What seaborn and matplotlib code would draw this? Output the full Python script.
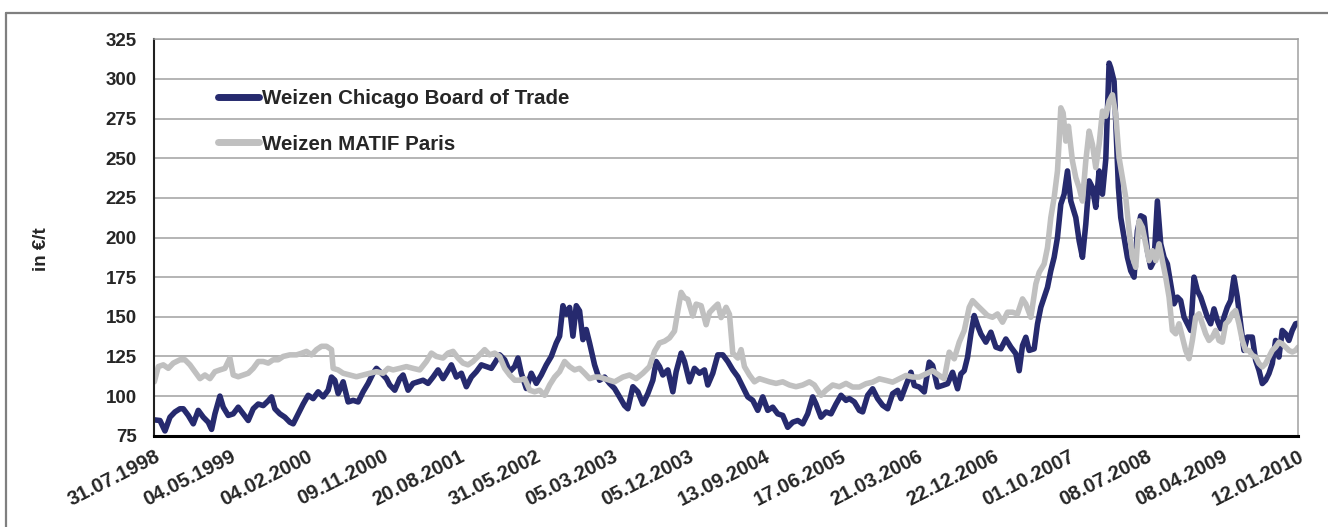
import matplotlib

matplotlib.use("Agg")
import matplotlib.pyplot as plt
import numpy as np
import pandas as pd
import seaborn as sns
from matplotlib.lines import Line2D
from matplotlib.transforms import ScaledTranslation

# category axis: one date label every 229 sample points
date_labels = [
    "31.07.1998", "04.05.1999", "04.02.2000", "09.11.2000", "20.08.2001",
    "31.05.2002", "05.03.2003", "05.12.2003", "13.09.2004", "17.06.2005",
    "21.03.2006", "22.12.2006", "01.10.2007", "08.07.2008", "08.04.2009",
    "12.01.2010",
]
label_every = 229

series_names = ["Weizen Chicago Board of Trade", "Weizen MATIF Paris"]
series_colors = ["#262A6E", "#C0C0C0"]

# Weizen Chicago Board of Trade, EUR/t
cbot_day = [
    0, 17, 32, 47, 62, 77, 87, 102, 117, 132, 147, 162, 172, 182, 197, 207, 222, 237, 252, 267,
    282, 297, 312, 327, 342, 352, 362, 377, 392, 407, 417, 432, 447, 462, 477, 492, 507, 522, 532, 542,
    552, 567, 582, 597, 612, 627, 642, 657, 667, 682, 697,
    707, 722, 737, 747, 762, 777, 792, 807, 822, 837, 852, 867, 877, 892, 907, 922, 937, 952, 967, 982,
    997, 1012, 1022, 1037, 1052, 1067, 1082, 1092, 1102, 1117, 1132, 1147, 1162, 1177, 1192, 1207, 1217, 1227, 1237, 1247,
    1257, 1267, 1277, 1287, 1297, 1307, 1322, 1337, 1352, 1367,
    1382, 1397, 1412, 1422, 1437, 1452, 1467, 1482, 1497, 1507, 1517, 1527, 1542, 1557, 1567, 1582, 1592, 1607, 1622, 1637,
    1652, 1662, 1677, 1692, 1707, 1722, 1737, 1752, 1767, 1782, 1797, 1812, 1827, 1842, 1857, 1872, 1887, 1902, 1917, 1932,
    1947, 1962, 1977, 1987, 2002, 2017, 2032, 2047, 2062, 2077,
    2087, 2102, 2117, 2127, 2142, 2157, 2172, 2187, 2202, 2217, 2232, 2242, 2257, 2272, 2282, 2297, 2312, 2327, 2337, 2352,
    2367, 2382, 2397, 2412, 2422, 2432, 2442, 2452, 2462, 2472, 2482, 2497, 2512, 2527, 2542, 2557, 2572, 2587, 2597, 2607,
    2617, 2627, 2642, 2652,
    2662, 2672, 2682, 2692, 2702, 2712, 2722, 2732, 2742, 2752, 2767, 2777, 2787, 2797, 2807, 2817, 2827, 2837, 2847, 2857,
    2867, 2872, 2882, 2889, 2895, 2902, 2912, 2922, 2932, 2942, 2952, 2962, 2972, 2982, 2992, 3002, 3012, 3022, 3032, 3042,
    3052, 3062, 3072, 3082, 3092, 3102, 3112, 3122, 3132, 3142, 3152, 3162, 3172, 3182, 3192, 3202, 3212, 3222, 3232, 3242,
    3252, 3262, 3272, 3282, 3297, 3307, 3317, 3327, 3337, 3347, 3357, 3367, 3377, 3387, 3397, 3407, 3417, 3427, 3435,
]
cbot_eur = [
    85, 84.6, 78, 86.7, 90, 92, 92, 87.8, 82.5, 91, 86.7, 83.5, 79, 88.8, 100, 93, 87.8, 88.8, 93, 88.8,
    84.6, 92, 95, 94, 97, 99.5, 92, 88.8, 86.7, 83.5, 82.5, 88.8, 95, 100.5, 98.4, 102.7, 99.5, 103.7, 112, 110,
    101.6, 109, 96.3, 97.3, 96.3, 102.7, 108, 114.4, 117.5, 114.4, 111,
    107, 103.7, 111, 113.3, 103.7, 108, 109, 110, 108, 112, 116.5, 111, 114.4, 119.7, 112, 114.4, 105.9, 112, 115.4, 119.7,
    118.6, 117.5, 120.8, 126, 122.9, 115.4, 118.6, 124, 114.4, 104.8, 114.4, 108, 113.3, 119.7, 125, 133.5, 137.8, 157, 151.6, 155.9,
    137.8, 157, 153.7, 135.6, 142, 133.5, 119.7, 110, 112, 108,
    104.8, 99.5, 94, 92, 105.9, 102.7, 95, 101.6, 110, 121.8, 118.6, 113.3, 116.5, 102.7, 115.4, 127.1, 121.8, 109, 117.5, 114.4,
    116.5, 107, 114.4, 126, 126, 121.8, 116.5, 112.2, 105.9, 99.5, 97.3, 91, 99.5, 91, 93, 88.8, 87.8, 80.3, 83.5, 84.6,
    82.5, 88.8, 99.5, 95, 86.7, 90, 88.8, 95, 100.5, 97.3,
    98.4, 96.3, 91, 90, 100.5, 104.6, 98.4, 94.2, 92, 101.5, 103.6, 98.4, 106.7, 115, 106.7, 105.7, 102.6, 121.4, 119.3, 105.7,
    106.7, 107.8, 115, 104.6, 114, 116, 124.5, 139.2, 150.8, 144.5, 139.2, 134, 140.3, 130.9, 129.8, 136, 130.9, 126.7, 116, 131.9,
    137.1, 128.8, 129.8, 145.5,
    156, 162.4, 168.6, 179.1, 187.5, 200.1, 221, 227.3, 242, 223, 212.6, 198, 187.5, 208.4, 235.7, 231.5, 219, 242, 227.3, 249.3,
    310, 307, 298.5, 263, 231.5, 212.6, 200, 187.5, 179, 175, 204.3, 213.7, 212.6, 191.7, 181.2, 185.4, 223, 196, 187.5, 183.3,
    170.7, 158.2, 162.4, 160.3, 149.8, 145.6, 141.4, 175, 166.6, 162.4, 156, 149.8, 145.6, 155, 147.7, 142.5, 149.8, 156, 160.3, 175,
    162.4, 145.6, 128.8, 137.2, 137.2, 122.6, 116.3, 107.9, 110, 114.2, 120.5, 135.1, 124.6, 141.4, 139.3, 135.1, 141.4, 145.6, 146,
]

# Weizen MATIF Paris, EUR/t
matif_day = [
    0, 12, 27, 42, 57, 77, 92, 107, 122, 137, 152, 167, 182, 197, 212, 227, 237, 252, 267, 282,
    297, 312, 327, 342, 357, 372, 387, 407, 427, 442, 457, 472, 487, 502, 517, 532, 537, 552, 567, 587,
    607, 627, 647, 667, 687, 702,
    717, 737, 757, 777, 797, 817, 832, 847, 867, 882, 897, 912, 927, 942, 957, 977, 992, 1007, 1022, 1037,
    1052, 1067, 1082, 1097, 1112, 1127, 1142, 1157, 1172, 1187, 1202, 1217, 1232, 1247, 1262, 1277, 1292, 1307, 1322, 1337,
    1352, 1367, 1382,
    1407, 1427, 1447, 1467, 1487, 1502, 1517, 1532, 1547, 1562, 1572, 1582, 1592, 1602, 1617, 1627, 1642, 1657, 1667, 1682,
    1692, 1702, 1717, 1727, 1737, 1752, 1762, 1772, 1787, 1802, 1817, 1832, 1847, 1867, 1887, 1907, 1927, 1947, 1967, 1982,
    2002, 2017, 2037, 2057, 2077,
    2097, 2117, 2137, 2157, 2177, 2197, 2217, 2237, 2257, 2277, 2297, 2317, 2337, 2357, 2372, 2387, 2402, 2417, 2432, 2447,
    2457, 2472, 2487, 2502, 2517, 2532, 2547, 2562, 2577, 2592, 2607, 2617, 2632, 2647, 2657, 2672, 2682, 2692, 2702, 2712,
    2717, 2722, 2729, 2737, 2745, 2757,
    2767, 2777, 2787, 2797, 2807, 2817, 2827, 2837, 2847, 2857, 2867, 2877, 2887, 2897, 2907, 2917, 2927, 2937, 2947, 2957,
    2967, 2977, 2987, 2997, 3007, 3017, 3027, 3037, 3047, 3057, 3067, 3077, 3087, 3097, 3107, 3117, 3127, 3137, 3147, 3157,
    3167, 3177, 3187, 3197, 3207, 3217, 3227, 3237, 3247, 3257, 3267, 3277, 3287, 3297, 3307, 3317, 3327, 3337, 3347, 3357,
    3367, 3377, 3387, 3397, 3407, 3417, 3427, 3435,
]
matif_eur = [
    109, 118.6, 119.7, 117.5, 120.8, 122.9, 122.9, 119.7, 115.4, 111, 113.3, 111, 115.4, 116.5, 117.5, 124, 113.3, 112.2, 113.3, 114.4,
    117.5, 121.8, 121.8, 120.8, 122.9, 122.9, 125, 126, 126, 127, 128.2, 126, 129.3, 131.4, 131.4, 129.3, 117.5, 116.5, 114.4, 113.3,
    112.2, 113.3, 114.4, 115.4, 114.4, 117.5,
    116.5, 117.5, 118.6, 117.5, 116.5, 121.8, 127.1, 125, 124, 127.1, 128.2, 124, 120.8, 119.7, 121.8, 126, 129.3, 126, 127.1, 125,
    117.5, 113.3, 110, 110, 111, 103.7, 102.7, 103.7, 100.5, 107, 112, 115.4, 121.8, 118.6, 116.5, 117.5, 114.4, 111, 112, 112,
    111, 110, 109,
    112, 113.3, 111, 114.4, 118.6, 128.2, 133.5, 134.6, 136.7, 141, 153.7, 165.4, 162, 161, 150.5, 158, 157, 145, 152.7, 156,
    158, 149.5, 156, 151.6, 127.1, 124, 129.3, 118.6, 113.3, 109, 111, 110, 109, 108, 109, 107, 105.9, 107, 109, 107,
    100.5, 103.7, 107, 105.9, 108,
    105.7, 105.7, 107.8, 108.8, 110.9, 109.9, 108.8, 110.9, 113, 112, 112, 114, 116, 113, 110.9, 127.7, 123.5, 134, 141.3, 156,
    160.2, 157, 153.9, 150.8, 149.7, 151.8, 146.6, 152.9, 152.9, 151.8, 161.3, 158.1, 149.7, 170.7, 178, 183.3, 193.7, 212.6, 225.2, 242,
    260.8, 281.8, 278.6, 260.8, 270.2, 248.2,
    237.8, 231.5, 223, 248.3, 267.1, 258.7, 244.1, 258.7, 279.7, 276.5, 286, 290, 277.6, 250.3, 237.8, 225.2, 204.3, 187.5, 181.2, 210.5,
    206.4, 196, 185.4, 191.7, 185.4, 196, 185.4, 175, 162.4, 141.4, 139.3, 145.6, 137.2, 128.8, 123.6, 135.1, 149.8, 151.9, 145.6, 139.3,
    135.1, 137.2, 141.4, 135.1, 134, 145.6, 147.7, 151.9, 154, 145.6, 135.1, 128.8, 128.8, 125.7, 124.6, 120.5, 118.4, 120.5, 124.6, 128.8,
    130.9, 134, 132.9, 130.9, 128.8, 127.8, 128.8, 130.9,
]

frame = pd.concat(
    [
        pd.DataFrame({"day": cbot_day, "eur": cbot_eur, "series": series_names[0]}),
        pd.DataFrame({"day": matif_day, "eur": matif_eur, "series": series_names[1]}),
    ],
    ignore_index=True,
)

sns.set_theme(style="white")
plt.rcParams["font.family"] = ["Liberation Sans", "DejaVu Sans"]
plt.rcParams["font.weight"] = "bold"

fig = plt.figure(figsize=(13.28, 5.27), dpi=100)
ax = fig.add_axes([0.1162, 0.1732, 0.8614, 0.7522])

sns.lineplot(
    data=frame, x="day", y="eur", hue="series", hue_order=series_names,
    palette=series_colors, estimator=None, sort=False, linewidth=4.0,
    legend=False, ax=ax,
)
for line in ax.lines:
    line.set_solid_capstyle("round")
    line.set_solid_joinstyle("round")

n_labels = len(date_labels)
ax.set_xlim(0, (n_labels - 1) * label_every)
ax.set_ylim(75, 325)
ax.set_yticks(np.arange(75, 326, 25))
ax.set_xticks(np.arange(n_labels) * label_every)
ax.set_xticklabels(date_labels, rotation=27, ha="right", rotation_mode="anchor")
shift = ScaledTranslation(-3 / 100, 0, fig.dpi_scale_trans)
for lbl in ax.get_xticklabels():
    lbl.set_transform(lbl.get_transform() + shift)
ax.set_xlabel("")
ax.set_ylabel("in €/t", fontsize=13.5, fontweight="bold")
ax.yaxis.set_label_coords(-0.091, 0.47)

ax.yaxis.grid(True, color="#A0A0A0", linewidth=1.1)
ax.set_axisbelow(True)
ax.tick_params(axis="y", direction="out", length=4.5, width=1.2, color="#404040", pad=8, labelsize=13.5)
ax.tick_params(axis="x", length=0, pad=8, labelsize=14.5)

ax.spines["left"].set_color("#202020")
ax.spines["left"].set_linewidth(1.5)
ax.spines["bottom"].set_color("black")
ax.spines["bottom"].set_linewidth(2.2)
ax.spines["right"].set_color("#A0A0A0")
ax.spines["right"].set_linewidth(1.1)
ax.spines["top"].set_color("#A0A0A0")
ax.spines["top"].set_linewidth(1.1)

handles = [Line2D([0], [0], color=c, linewidth=5, solid_capstyle="round") for c in series_colors]
ax.legend(
    handles, series_names, loc="upper left", bbox_to_anchor=(0.0557, 0.875),
    frameon=False, fontsize=14.8, handlelength=2.0, handletextpad=0.15,
    labelspacing=1.3, borderaxespad=0, borderpad=0,
)

# outer chart border (only the top and left edges fall inside the picture)
frame_x = 5.5 / 1328
frame_y = 1 - 12.5 / 527
fig.add_artist(Line2D([frame_x, frame_x], [0, frame_y], transform=fig.transFigure, color="#7F7F7F", linewidth=1.6))
fig.add_artist(Line2D([frame_x, 1], [frame_y, frame_y], transform=fig.transFigure, color="#7F7F7F", linewidth=1.6))

fig.savefig("out.png", dpi=100)
